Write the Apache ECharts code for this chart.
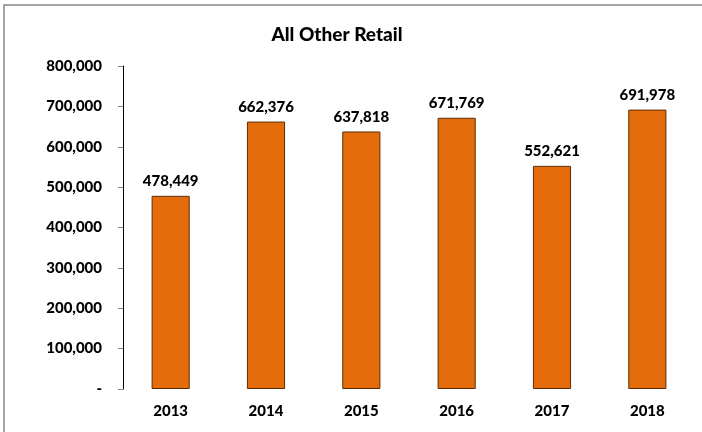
<!DOCTYPE html>
<html>
<head>
<meta charset="utf-8">
<script src="https://cdn.jsdelivr.net/npm/echarts@6/dist/echarts.min.js"></script>
<style>
  html, body { margin: 0; padding: 0; background: #fff; }
</style>
</head>
<body>
<div id="main" style="width: 702px;height:432px;"></div>
<script>
  var years = ['2013', '2014', '2015', '2016', '2017', '2018'];
  var sales = [478449, 662376, 637818, 671769, 552621, 691978];
  var yTicks = [0, 100000, 200000, 300000, 400000, 500000, 600000, 700000, 800000];

  var fmt = function (v) {
    return v === 0 ? '-' : v.toLocaleString('en-US');
  };

  var myChart = echarts.init(document.getElementById('main'));
  var option = {
    animation: false,
    textStyle: { fontFamily: 'Lato' },
    title: {
      text: 'All Other Retail',
      left: 332,
      top: 20,
      textAlign: 'center',
      textStyle: { fontSize: 19, fontWeight: 900, color: '#000', fontFamily: 'Lato' }
    },
    graphic: [{
      // chart frame (only top and left edges fall inside the picture)
      type: 'rect',
      shape: { x: 4, y: 5, width: 900, height: 900 },
      style: { fill: 'none', stroke: '#888', lineWidth: 1.5 },
      silent: true
    }],
    grid: { left: 123, right: 7, top: 66, bottom: 43 },
    xAxis: {
      type: 'category',
      data: years,
      axisLine: { show: false },
      axisTick: { show: false },
      axisLabel: { fontSize: 15, fontWeight: 900, color: '#000', margin: 15 }
    },
    yAxis: {
      type: 'value',
      min: yTicks[0],
      max: yTicks[yTicks.length - 1],
      interval: 100000,
      splitLine: { show: false },
      axisLine: { show: true, lineStyle: { color: '#000', width: 1 } },
      axisTick: { show: true, length: 5, lineStyle: { color: '#888' } },
      axisLabel: { fontSize: 15, fontWeight: 900, color: '#000', margin: 21, formatter: fmt }
    },
    series: [{
      type: 'bar',
      data: sales,
      barWidth: '40%',
      itemStyle: { color: '#E46C0A', borderColor: '#5a2d08', borderWidth: 1 },
      label: {
        show: true,
        position: 'top',
        distance: 7,
        fontSize: 15,
        fontWeight: 900,
        color: '#000',
        formatter: function (p) { return fmt(p.value); }
      }
    }]
  };
  myChart.setOption(option);
</script>
</body>
</html>
